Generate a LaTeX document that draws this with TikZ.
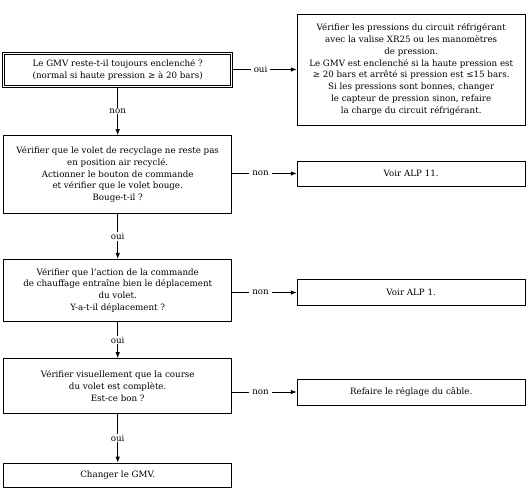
\documentclass[tikz,border=0pt]{standalone}
\usepackage{fontspec}
\setmainfont{DejaVu Serif}
\usetikzlibrary{arrows.meta}

\tikzset{
    box/.style={draw, line width=0.8pt, align=center, inner sep=0pt,
        minimum width=228pt, font=\fontsize{8.7}{11.8}\selectfont},
    flow/.style={line width=0.8pt, -{Latex[length=6pt,width=4.5pt]}},
    answer/.style={fill=white, inner xsep=3pt, inner ysep=1pt,
        font=\fontsize{8.7}{11.8}\selectfont}
}

\begin{document}
\begin{tikzpicture}[x=1pt,y=-1pt]
    \useasboundingbox (0,0) rectangle (531,493);
    % left column
    \node[box, double, double distance=1.4pt, minimum height=33pt] (gmv) at (117.7,70)
        {Le GMV reste-t-il toujours enclenché ?\\(normal si haute pression ≥ à 20 bars)};
    \node[box, minimum height=78pt] (recyc) at (117.7,174.6)
        {Vérifier que le volet de recyclage ne reste pas\\en position air recyclé.\\Actionner le bouton de commande\\et vérifier que le volet bouge.\\Bouge-t-il ?};
    \node[box, minimum height=62pt] (chauf) at (117.7,290.3)
        {Vérifier que l’action de la commande\\de chauffage entraîne bien le déplacement\\du volet.\\Y-a-t-il déplacement ?};
    \node[box, minimum height=54.5pt] (course) at (117.7,385.8)
        {Vérifier visuellement que la course\\du volet est complète.\\Est-ce bon ?};
    \node[box, minimum height=24pt] (change) at (117.7,475)
        {Changer le GMV.};
    % right column
    \node[box, minimum height=111pt] (press) at (411.2,69.5)
        {Vérifier les pressions du circuit réfrigérant\\avec la valise XR25 ou les manomètres\\de pression.\\Le GMV est enclenché si la haute pression est\\≥ 20 bars et arrêté si pression est ≤15 bars.\\Si les pressions sont bonnes, changer\\le capteur de pression sinon, refaire\\la charge du circuit réfrigérant.};
    \node[box, minimum height=25pt] (alp11) at (411.2,173.5) {Voir ALP 11.};
    \node[box, minimum height=25.5pt] (alp1) at (411.2,292.5) {Voir ALP 1.};
    \node[box, minimum height=26pt] (cable) at (411.2,392) {Refaire le réglage du câble.};
    % connectors
    \draw[flow] (gmv.south) -- node[answer] {non} (recyc.north);
    \draw[flow] (recyc.south) -- node[answer] {oui} (chauf.north);
    \draw[flow] (chauf.south) -- node[answer] {oui} (course.north);
    \draw[flow] (course.south) -- node[answer] {oui} (change.north);
    \draw[flow] (gmv.east |- press.west) -- node[answer, pos=0.44] {oui} (press.west);
    \draw[flow] (recyc.east |- alp11.west) -- node[answer, pos=0.44] {non} (alp11.west);
    \draw[flow] (chauf.east |- alp1.west) -- node[answer, pos=0.44] {non} (alp1.west);
    \draw[flow] (course.east |- cable.west) -- node[answer, pos=0.44] {non} (cable.west);
\end{tikzpicture}
\end{document}
